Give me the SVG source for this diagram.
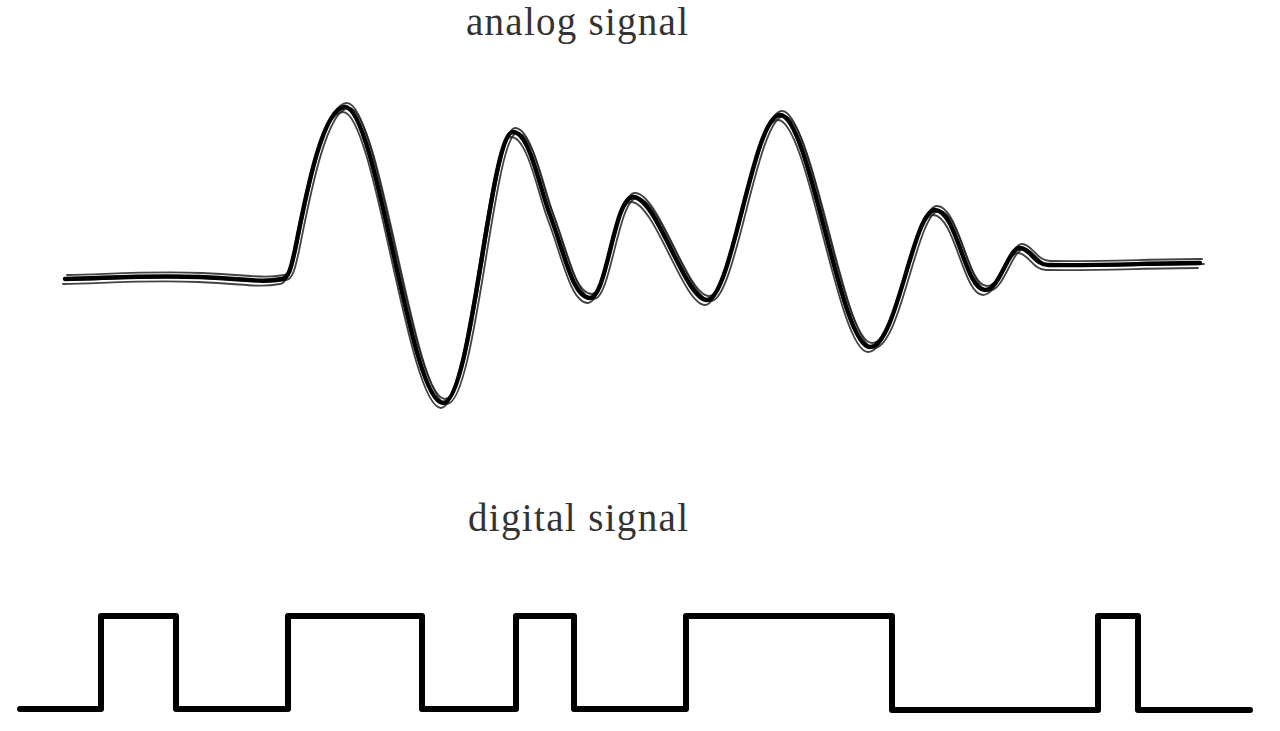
<svg xmlns="http://www.w3.org/2000/svg" width="1280" height="731" viewBox="0 0 1280 731">
<defs>
<style>
.lbl{font-family:"Liberation Serif","DejaVu Serif",serif;font-size:39px;fill:#333;text-anchor:start}
.main{fill:none;stroke:#000;stroke-width:4.4;stroke-linejoin:round;stroke-linecap:round}
.thin{fill:none;stroke:#222;stroke-width:1.8;stroke-linejoin:round;stroke-linecap:round;opacity:0.85}
.dig{fill:none;stroke:#000;stroke-width:6;stroke-linejoin:round;stroke-linecap:round}
</style>
<path id="wave" d="M65,279 C110,278 150,275 200,277 S260,283 282,279 C290,278 292,262 295,250 C305,200 322,107 345,107 C377,107 410,403 443,403 C472,403 490,132 513,132 C530,132 540,190 550,215 C565,255 573,298 590,298 C607,298 614,197 633,197 C657,197 685,300 707,300 C732,300 753,115 780,115 C810,115 840,347 870,347 C897,347 913,210 935,210 C957,210 965,290 985,290 C1000,290 1008,248 1020,248 C1030,248 1035,265 1048,265 C1100,266 1150,263 1200,263"/>
</defs>
<g id="analog-label"><text class="lbl" x="466" y="35" textLength="222" lengthAdjust="spacing">analog signal</text></g>
<g id="analog-signal">
<use href="#wave" class="thin" transform="translate(2,-4)"/>
<use href="#wave" class="thin" transform="translate(-2,5)"/>
<use href="#wave" class="thin" transform="translate(4,1)"/>
<use href="#wave" class="main"/>
</g>
<g id="digital-label"><text class="lbl" x="468" y="531" textLength="220" lengthAdjust="spacing">digital signal</text></g>
<g id="digital-signal">
<path class="dig" d="M20,709 L101,709 L101,616 L176,616 L176,709 L288,709 L288,616 L422,616 L422,709 L516,709 L516,616 L574,616 L574,709 L686,709 L686,616 L892,616 L892,710 L1098,710 L1098,616 L1138,616 L1138,710 L1250,710"/>
</g>
</svg>
